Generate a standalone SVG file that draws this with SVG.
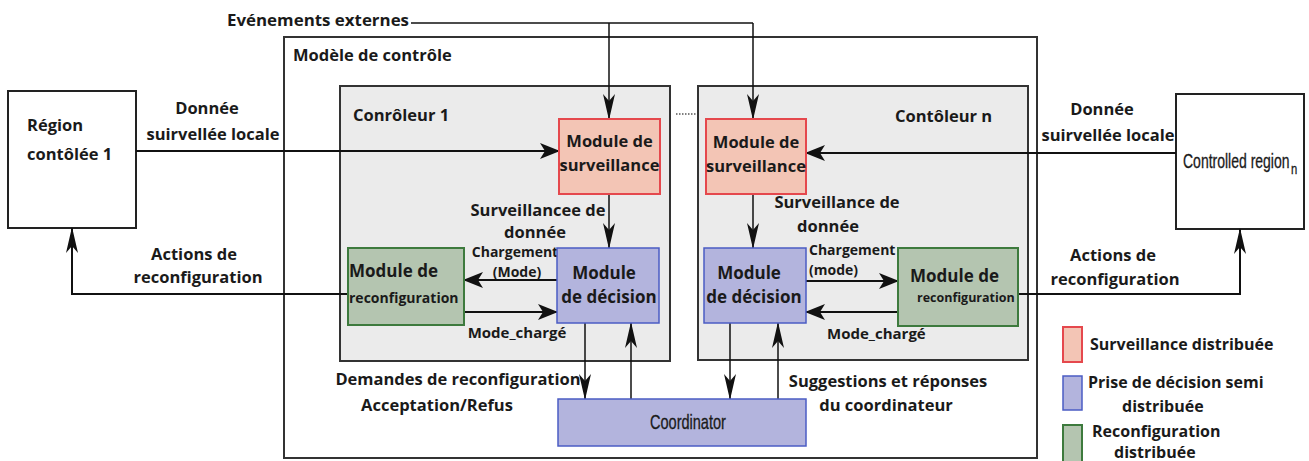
<svg xmlns="http://www.w3.org/2000/svg" width="1309" height="461" viewBox="0 0 1309 461">
<defs>
<style>
text{font-family:"Open Sans","Liberation Sans",sans-serif;font-weight:bold;fill:#1a1a1a;font-size:16.5px}
.m{text-anchor:middle}
.box{fill:#fff;stroke:#222;stroke-width:2}
.outer{fill:#fff;stroke:#333;stroke-width:2}
.ctrl{fill:#ebebeb;stroke:#333;stroke-width:2}
.sv{fill:#f3c5b5;stroke:#e5484d;stroke-width:2}
.dc{fill:#b3b4dd;stroke:#4b5cc4;stroke-width:1.5}
.rc{fill:#b4c5b0;stroke:#3d7a3d;stroke-width:2}
.w{fill:none;stroke:#111;stroke-width:2}
.t{fill:none;stroke:#111;stroke-width:1.5}
.n{font-family:"Liberation Sans",Arial,sans-serif;font-weight:normal;fill:#1a1a1a;stroke:#1a1a1a;stroke-width:0.3}
.s14{font-size:14px}
.s15{font-size:15px}
.s16{font-size:16px}
.mod{font-size:16.5px}
</style>
<marker id="ah" markerUnits="userSpaceOnUse" markerWidth="20" markerHeight="16" refX="19" refY="8" orient="auto"><path d="M0,0 L20,8 L0,16 L5,8 z" fill="#111"/></marker>
<marker id="av" markerUnits="userSpaceOnUse" markerWidth="26" markerHeight="12" refX="25" refY="6" orient="auto"><path d="M0,0 L26,6 L0,12 L7,6 z" fill="#111"/></marker>
</defs>

<g id="modele">
<rect class="outer" x="284" y="37" width="753" height="421"/>
<text x="293" y="61">Modèle de contrôle</text>
</g>
<g id="controleur1">
<rect class="ctrl" x="340" y="86" width="330" height="275"/>
<text x="353" y="121">Conrôleur 1</text>
</g>
<g id="controleurn">
<rect class="ctrl" x="698" y="86" width="330" height="274"/>
<text x="895" y="122">Contôleur n</text>
</g>

<g id="region1">
<rect class="box" x="8" y="91" width="128" height="137"/>
<text x="27" y="131">Région</text>
<text x="27" y="160">contôlée 1</text>
</g>
<g id="regionn">
<rect class="box" x="1176" y="94" width="128" height="135"/>
<text class="n" transform="translate(1183,168) scale(0.7,1)" x="0" y="0" style="font-size:20px">Controlled region</text>
<text class="n" transform="translate(1291,174) scale(0.75,1)" x="0" y="0" style="font-size:15px">n</text>
</g>

<g id="connecteurs">
<path class="t" d="M411,23 H753"/>
<path class="t" d="M609,23 V119" marker-end="url(#av)"/>
<path class="t" d="M753,23 V119" marker-end="url(#av)"/>
<path class="w" d="M136,151 H559" marker-end="url(#ah)"/>
<path class="w" d="M1176,153 H806" marker-end="url(#ah)"/>
<path class="t" d="M609,194 V248" marker-end="url(#av)"/>
<path class="t" d="M753,194 V248" marker-end="url(#av)"/>
<path class="w" d="M557,280 H464" marker-end="url(#ah)"/>
<path class="w" d="M464,312 H557" marker-end="url(#ah)"/>
<path class="w" d="M806,281 H898" marker-end="url(#ah)"/>
<path class="w" d="M898,312 H806" marker-end="url(#ah)"/>
<path class="t" d="M585,323 V399" marker-end="url(#av)"/>
<path class="t" d="M631,399 V323" marker-end="url(#av)"/>
<path class="t" d="M730,323 V399" marker-end="url(#av)"/>
<path class="t" d="M778,399 V323" marker-end="url(#av)"/>
<path class="w" d="M348,294 H72 V228" marker-end="url(#av)"/>
<path class="w" d="M1018,294 H1240 V229" marker-end="url(#av)"/>
<path d="M676,114 H697" fill="none" stroke="#555" stroke-width="1.5" stroke-dasharray="1.5 1.5"/>
</g>

<g id="labels">
<text x="227" y="26" textLength="182" lengthAdjust="spacingAndGlyphs">Evénements externes</text>
<text class="m" x="207" y="114">Donnée</text>
<text class="m" x="213" y="140">suirvellée locale</text>
<text class="m" x="1102" y="115">Donnée</text>
<text class="m" x="1108" y="141">suirvellée locale</text>
<text class="m" x="538" y="216">Surveillancee de</text>
<text class="m" x="535" y="238">donnée</text>
<text class="m s14" x="515" y="257">Chargement</text>
<text class="m s14" x="517" y="277">(Mode)</text>
<text class="m s15" x="517" y="338">Mode_chargé</text>
<text class="m" x="837" y="208">Surveillance de</text>
<text class="m" x="828" y="232">donnée</text>
<text class="s14" x="809" y="255">Chargement</text>
<text class="s14" x="809" y="275">(mode)</text>
<text class="s15" x="827" y="339">Mode_chargé</text>
<text class="m" x="458" y="385">Demandes de reconfiguration</text>
<text class="m" x="437" y="411">Acceptation/Refus</text>
<text class="m" x="888" y="387">Suggestions et réponses</text>
<text class="m" x="886" y="411">du coordinateur</text>
<text class="m" x="194" y="260">Actions de</text>
<text class="m" x="198" y="283">reconfiguration</text>
<text class="m" x="1113" y="261">Actions de</text>
<text class="m" x="1115" y="285">reconfiguration</text>
</g>

<g id="surveillance1">
<rect class="sv" x="559" y="119" width="101" height="75"/>
<text class="m mod" x="609.5" y="147">Module de</text>
<text class="m mod" x="609.5" y="171">surveillance</text>
</g>
<g id="surveillancen">
<rect class="sv" x="706" y="119" width="100" height="75"/>
<text class="m mod" x="756" y="148">Module de</text>
<text class="m mod" x="756" y="172">surveillance</text>
</g>
<g id="decision1">
<rect class="dc" x="557" y="248" width="102" height="75"/>
<text class="m" x="604" y="279" style="font-size:17px">Module</text>
<text class="m" x="609" y="303" style="font-size:17px">de décision</text>
</g>
<g id="decisionn">
<rect class="dc" x="704" y="248" width="102" height="75"/>
<text class="m" x="749" y="279" style="font-size:17px">Module</text>
<text class="m" x="754" y="303" style="font-size:17px">de décision</text>
</g>
<g id="reconfig1">
<rect class="rc" x="348" y="248" width="116" height="77"/>
<text x="349" y="277" style="font-size:17px">Module de</text>
<text x="349" y="303" style="font-size:14px">reconfiguration</text>
</g>
<g id="reconfign">
<rect class="rc" x="898" y="248" width="120" height="78"/>
<text x="910" y="282" style="font-size:17px">Module de</text>
<text x="917" y="302" style="font-size:12.5px">reconfiguration</text>
</g>
<g id="coordinator">
<rect class="dc" x="558" y="399" width="248" height="47"/>
<text class="n" transform="translate(650,429) scale(0.727,1)" x="0" y="0" style="font-size:20px">Coordinator</text>
</g>

<g id="legende">
<rect class="sv" x="1063" y="327" width="19" height="35" stroke-width="2.5"/>
<rect class="dc" x="1063" y="376" width="19" height="34" stroke-width="2.5"/>
<rect class="rc" x="1063" y="425" width="19" height="40" stroke-width="2.5"/>
<text class="s16" x="1090" y="350">Surveillance distribuée</text>
<text class="s16" x="1088" y="388">Prise de décision semi</text>
<text class="s16" x="1122" y="412">distribuée</text>
<text class="s16" x="1092" y="437">Reconfiguration</text>
<text class="s16" x="1114" y="458">distribuée</text>
</g>
</svg>
